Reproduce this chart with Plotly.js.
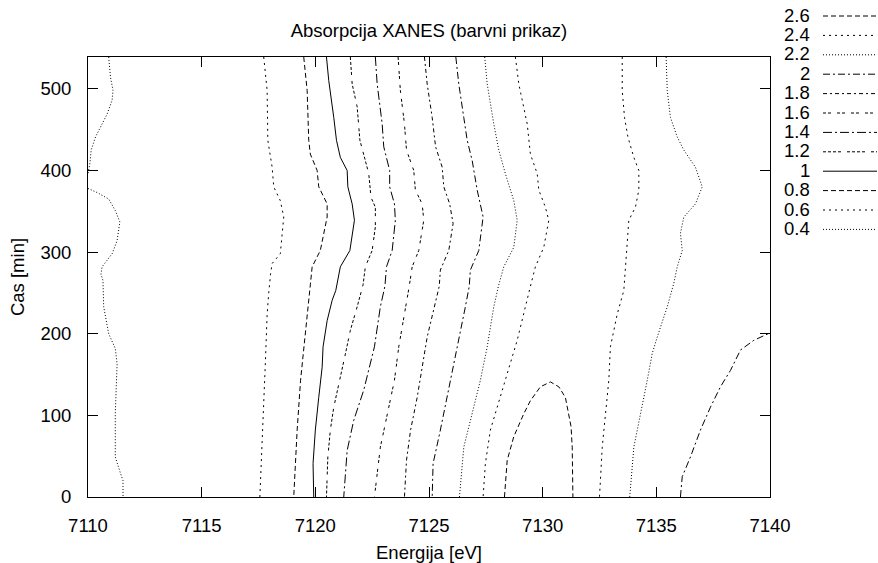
<!DOCTYPE html>
<html>
<head>
<meta charset="utf-8">
<script src="https://cdn.plot.ly/plotly-3.0.1.min.js"></script>
<style>html,body{margin:0;padding:0;background:#fff;}#chart{width:878px;height:563px;}</style>
</head>
<body>
<div id="chart"></div>
<script>
// ---- Contour levels (legend order) ----
const levelLabels = ["2.6", "2.4", "2.2", "2", "1.8", "1.6", "1.4", "1.2", "1", "0.8", "0.6", "0.4"];

// ---- Contour lines: energy [eV] and time [min] ----
const c04a_E = [7110.91, 7110.99, 7111.10, 7111.06, 7110.84, 7110.62, 7110.33, 7110.14, 7110.08, 7110.0];
const c04a_T = [539, 514, 498, 486, 469, 457, 441, 425, 408, 396];
const c04b_E = [7110.0, 7110.4, 7110.91, 7111.2, 7111.4, 7111.28, 7111.06, 7110.62, 7110.57, 7110.66, 7110.69, 7110.91, 7111.2, 7111.28, 7111.2, 7111.2, 7111.43, 7111.54, 7111.54];
const c04b_T = [378, 373, 365, 351, 337, 314, 298, 282, 273, 265, 233, 200, 182, 163, 102, 49, 29, 20, 0];

const c06_E = [7117.73, 7117.88, 7117.91, 7118.10, 7118.17, 7118.46, 7118.61, 7118.46, 7118.10, 7118.03, 7117.95, 7117.88, 7117.80, 7117.70, 7117.56];
const c06_T = [539, 498, 437, 404, 380, 363, 343, 298, 286, 273, 250, 224, 163, 102, 0];

const c08_E = [7119.49, 7119.64, 7119.71, 7119.78, 7120.08, 7120.15, 7120.52, 7120.52, 7120.22, 7119.86, 7119.78, 7119.64, 7119.49, 7119.35, 7119.20, 7119.05];
const c08_T = [539, 498, 437, 420, 400, 380, 359, 343, 302, 282, 260, 224, 184, 143, 82, 0];

const c10_E = [7120.49, 7120.59, 7120.81, 7120.93, 7121.10, 7121.40, 7121.43, 7121.62, 7121.72, 7121.52, 7121.10, 7120.99, 7120.90, 7120.74, 7120.52, 7120.34, 7120.30, 7120.15, 7120.00, 7119.90, 7119.93];
const c10_T = [539, 510, 465, 437, 416, 400, 380, 359, 339, 302, 282, 265, 253, 241, 216, 184, 159, 122, 82, 41, 0];

const c12_E = [7121.54, 7121.62, 7121.84, 7121.96, 7122.20, 7122.35, 7122.45, 7122.64, 7122.64, 7122.50, 7122.20, 7122.10, 7121.84, 7121.54, 7121.32, 7121.08, 7120.81, 7120.66, 7120.55, 7120.49];
const c12_T = [539, 506, 478, 437, 412, 396, 367, 355, 331, 302, 282, 260, 233, 204, 175, 143, 110, 82, 49, 0];

const c14_E = [7122.64, 7122.72, 7122.94, 7123.01, 7123.27, 7123.27, 7123.48, 7123.52, 7123.38, 7123.13, 7123.06, 7122.86, 7122.60, 7122.42, 7122.13, 7121.69, 7121.40, 7121.25];
const c14_T = [539, 506, 457, 429, 400, 380, 359, 339, 302, 282, 258, 233, 184, 163, 131, 94, 57, 0];

const c16_E = [7123.64, 7123.74, 7123.92, 7124.01, 7124.33, 7124.40, 7124.70, 7124.77, 7124.55, 7124.26, 7124.13, 7123.92, 7123.67, 7123.48, 7123.16, 7122.86, 7122.60];
const c16_T = [539, 498, 457, 425, 400, 376, 359, 339, 302, 282, 258, 224, 184, 143, 102, 61, 0];

const c18_E = [7124.80, 7124.92, 7125.14, 7125.29, 7125.58, 7125.65, 7125.91, 7126.06, 7125.87, 7125.50, 7125.45, 7125.24, 7124.92, 7124.70, 7124.48, 7124.19, 7124.01, 7123.92];
const c18_T = [539, 506, 465, 429, 404, 380, 359, 335, 302, 278, 258, 233, 196, 159, 122, 82, 45, 0];

const c20a_E = [7126.18, 7126.31, 7126.53, 7126.68, 7126.90, 7127.00, 7127.12, 7127.38, 7127.19, 7126.82, 7126.77, 7126.60, 7126.31, 7126.06, 7125.80, 7125.50, 7125.18, 7125.14];
const c20a_T = [539, 506, 465, 437, 412, 396, 376, 343, 302, 278, 258, 233, 192, 159, 122, 82, 41, 0];
const c20b_E = [7136.06, 7136.14, 7136.50, 7136.94, 7137.38, 7137.82, 7138.26, 7138.70, 7139.29, 7139.80, 7140.0];
const c20b_T = [0, 25, 49, 82, 110, 135, 155, 180, 192, 199, 201];

const c22a_E = [7127.45, 7127.56, 7127.85, 7128.07, 7128.36, 7128.73, 7128.88, 7128.73, 7128.29, 7128.05, 7127.85, 7127.56, 7127.26, 7126.90, 7126.53, 7126.34];
const c22a_T = [539, 506, 457, 425, 396, 363, 339, 306, 282, 258, 233, 184, 143, 102, 61, 0];
const c22b_E = [7135.43, 7135.48, 7135.62, 7135.92, 7136.21, 7136.72, 7137.02, 7136.72, 7136.21, 7136.06, 7136.14, 7135.92, 7135.77, 7135.48, 7135.04, 7134.82, 7134.60, 7134.30, 7134.01, 7133.83];
const c22b_T = [539, 498, 465, 441, 425, 404, 380, 359, 343, 323, 302, 282, 262, 233, 196, 176, 143, 102, 61, 0];

const c24a_E = [7128.80, 7128.95, 7129.32, 7129.46, 7129.76, 7129.83, 7130.12, 7130.27, 7130.05, 7129.68, 7129.46, 7129.24, 7128.88, 7128.44, 7128.07, 7127.70, 7127.48, 7127.38];
const c24a_T = [539, 506, 457, 420, 396, 376, 355, 339, 306, 282, 258, 233, 192, 151, 118, 82, 41, 0];
const c24b_E = [7133.50, 7133.50, 7133.60, 7133.75, 7134.01, 7134.23, 7134.23, 7134.08, 7133.79, 7133.72, 7133.64, 7133.57, 7133.28, 7132.98, 7132.91, 7132.76, 7132.62, 7132.50];
const c24b_T = [539, 498, 465, 441, 416, 400, 376, 355, 339, 314, 274, 253, 224, 184, 143, 102, 61, 0];

const c26_E = [7128.32, 7128.44, 7128.73, 7129.02, 7129.17, 7129.46, 7129.90, 7130.34, 7130.71, 7131.00, 7131.15, 7131.25, 7131.30, 7131.33];
const c26_T = [0, 45, 74, 94, 102, 118, 135, 141, 135, 122, 102, 86, 61, 0];

// ---- Line styles per level (gnuplot-like dash types) ----
const dashStyle = {
  "2.6": "5px,3px",
  "2.4": "2px,4px",
  "2.2": "1px,2px",
  "2":   "7px,3px,2px,3px",
  "1.8": "4px,3px,2px,3px",
  "1.6": "3px,2px,3px,6px",
  "1.4": "9px,3px,2px,3px",
  "1.2": "3px,2px,3px,2px,3px,2px,3px,6px",
  "1":   "solid",
  "0.8": "5px,3px",
  "0.6": "2px,4px",
  "0.4": "1px,2px"
};

const contourLines = [
  ["0.4", c04a_E, c04a_T], ["0.4", c04b_E, c04b_T],
  ["0.6", c06_E, c06_T], ["0.8", c08_E, c08_T], ["1", c10_E, c10_T],
  ["1.2", c12_E, c12_T], ["1.4", c14_E, c14_T], ["1.6", c16_E, c16_T],
  ["1.8", c18_E, c18_T], ["2", c20a_E, c20a_T], ["2", c20b_E, c20b_T],
  ["2.2", c22a_E, c22a_T], ["2.2", c22b_E, c22b_T],
  ["2.4", c24a_E, c24a_T], ["2.4", c24b_E, c24b_T], ["2.6", c26_E, c26_T]
];

const traces = contourLines.map(([lvl, E, T]) => ({
  type: "scatter", mode: "lines", x: E, y: T, showlegend: false,
  hoverinfo: "skip",
  line: {color: "#000", width: 1, dash: dashStyle[lvl], shape: "linear"}
}));

// ---- Geometry helpers (pixel -> paper) ----
const M = {l: 88, r: 108, t: 57, b: 66};
const W = 878, H = 563;
const pw = W - M.l - M.r, ph = H - M.t - M.b;
const px2x = p => (p - M.l) / pw;
const py2y = p => (H - M.b - p) / ph;

const FONT = "Liberation Sans, Arial, Helvetica, sans-serif";
const FS = 18.5;

const annotations = [];
const shapes = [];
levelLabels.forEach((lab, i) => {
  const yPix = 15 + i * 19.4;
  annotations.push({
    xref: "paper", yref: "paper", x: px2x(812), y: py2y(yPix),
    xanchor: "right", yanchor: "middle", showarrow: false, text: lab,
    font: {family: FONT, size: FS, color: "#000"}
  });
  shapes.push({
    type: "line", xref: "paper", yref: "paper",
    x0: px2x(823), x1: px2x(877), y0: py2y(yPix + 1), y1: py2y(yPix + 1),
    line: {color: "#000", width: 1, dash: dashStyle[lab]}
  });
});

const axisCommon = {
  showgrid: false, zeroline: false, showline: true, linecolor: "#000", linewidth: 1,
  mirror: "ticks", ticks: "inside", ticklen: 10, tickcolor: "#000", tickwidth: 1,
  tickfont: {family: FONT, size: FS, color: "#000"}
};

const layout = {
  width: W, height: H, margin: M,
  paper_bgcolor: "#fff", plot_bgcolor: "#fff",
  showlegend: false,
  title: {text: "Absorpcija XANES (barvni prikaz)", x: 0.5, xref: "paper",
          y: 1 - 31 / H, yref: "container", yanchor: "middle",
          font: {family: FONT, size: FS, color: "#000"}},
  xaxis: Object.assign({}, axisCommon, {
    range: [7110, 7140], tick0: 7110, dtick: 5, ticklabelstandoff: 12,
    title: {text: "Energija [eV]", standoff: 10, font: {family: FONT, size: FS, color: "#000"}}
  }),
  yaxis: Object.assign({}, axisCommon, {
    range: [0, 539], tick0: 0, dtick: 100, ticklabelstandoff: 12,
    title: {text: "Cas [min]", standoff: 10, font: {family: FONT, size: FS, color: "#000"}}
  }),
  annotations: annotations,
  shapes: shapes
};

Plotly.newPlot("chart", traces, layout, {staticPlot: true, displayModeBar: false});
</script>
</body>
</html>
